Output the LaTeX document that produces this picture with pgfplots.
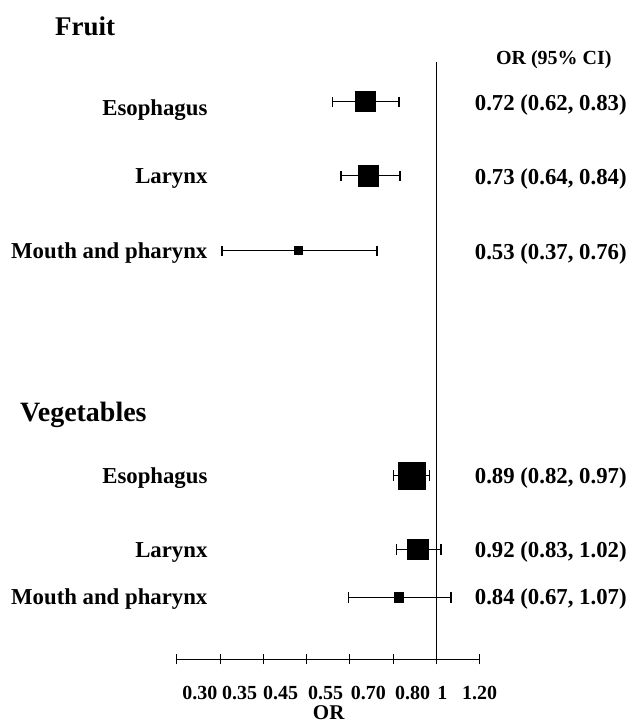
\documentclass[border=0pt]{standalone}
\usepackage{fontspec}
\setmainfont{Liberation Serif}
\usepackage{pgfplots}
\usepackage{pgfplotstable}
\pgfplotsset{compat=1.18}

% positions on the drawn OR scale (tick k = k-th label), y in rows
\pgfplotstableread{
or   lo   hi   y   s
4.37 3.60 5.13 624 5.0
4.43 3.79 5.15 550 5.2
2.82 1.04 4.62 475 2.0
5.43 5.01 5.84 250 6.7
5.57 5.08 6.10 176 5.2
5.13 3.97 6.33 128 2.4
}\ordata

\begin{document}
\begin{tikzpicture}
\begin{axis}[
  x=21.65pt, y=0.5pt,
  xmin=0, xmax=7, ymin=66, ymax=664,
  clip=false,
  axis x line*=bottom,
  axis y line=none,
  xtick={0,1,...,7},
  xticklabels={},
  xtick align=center,
  major tick length=5pt,
  tick style={black, line width=0.5pt},
  x axis line style={line width=0.5pt},
  extra x ticks={0.53,1.45,2.40,3.44,4.43,5.45,6.14,6.999},
  extra x tick labels={0.30,0.35,0.45,0.55,0.70,0.80,1,1.20},
  extra x tick style={major tick length=0pt},
  xticklabel style={font=\bfseries\fontsize{10}{11}\selectfont, yshift=-10pt},
  /pgf/number format/assume math mode=true,
  xlabel={OR},
  every axis x label/.style={at={(axis cs:3.51,13)}, anchor=center, font=\bfseries\fontsize{10.5}{12}\selectfont},
]
\path (axis cs:-4.088,0) rectangle (axis cs:10.531,726);

% reference line at OR = 1
\addplot[black, line width=0.7pt] coordinates {(6,66) (6,664)};

% confidence intervals
\addplot[black, only marks, mark=none,
  error bars/.cd, x dir=both, x explicit, error mark=|,
  error bar style={line width=0.5pt, black},
  error mark options={line width=0.9pt, mark size=2.6pt, black}]
  table[x=or, y=y, x error plus expr=\thisrow{hi}-\thisrow{or},
        x error minus expr=\thisrow{or}-\thisrow{lo}] {\ordata};

% point estimates
\addplot[scatter, only marks, mark=square*,
  scatter/use mapped color={draw=black, fill=black},
  visualization depends on={\thisrow{s} \as \ms},
  scatter/@pre marker code/.append style={/tikz/mark size=\ms}]
  table[x=or, y=y] {\ordata};

% text
\begin{scope}[every node/.style={inner sep=0pt}, font=\bfseries\fontsize{11.4}{13}\selectfont]
\node[anchor=mid east] at (axis cs:0.716,615) {Esophagus};
\node[anchor=mid east] at (axis cs:0.716,547) {Larynx};
\node[anchor=mid east] at (axis cs:0.716,472) {Mouth and pharynx};
\node[anchor=mid east] at (axis cs:0.716,247) {Esophagus};
\node[anchor=mid east] at (axis cs:0.716,173) {Larynx};
\node[anchor=mid east] at (axis cs:0.716,125) {Mouth and pharynx};
\node[anchor=mid west] at (axis cs:6.88,620) {0.72 (0.62, 0.83)};
\node[anchor=mid west] at (axis cs:6.88,546) {0.73 (0.64, 0.84)};
\node[anchor=mid west] at (axis cs:6.88,471) {0.53 (0.37, 0.76)};
\node[anchor=mid west] at (axis cs:6.88,247) {0.89 (0.82, 0.97)};
\node[anchor=mid west] at (axis cs:6.88,173) {0.92 (0.83, 1.02)};
\node[anchor=mid west] at (axis cs:6.88,125) {0.84 (0.67, 1.07)};
\node[anchor=mid west, font=\bfseries\fontsize{10}{12}\selectfont] at (axis cs:7.37,666) {OR (95\% CI)};
\node[anchor=mid west, font=\bfseries\fontsize{13.5}{16}\selectfont] at (axis cs:-2.82,695) {Fruit};
\node[anchor=mid west, font=\bfseries\fontsize{14}{16}\selectfont] at (axis cs:-3.63,309) {Vegetables};
\end{scope}
\end{axis}
\end{tikzpicture}
\end{document}
